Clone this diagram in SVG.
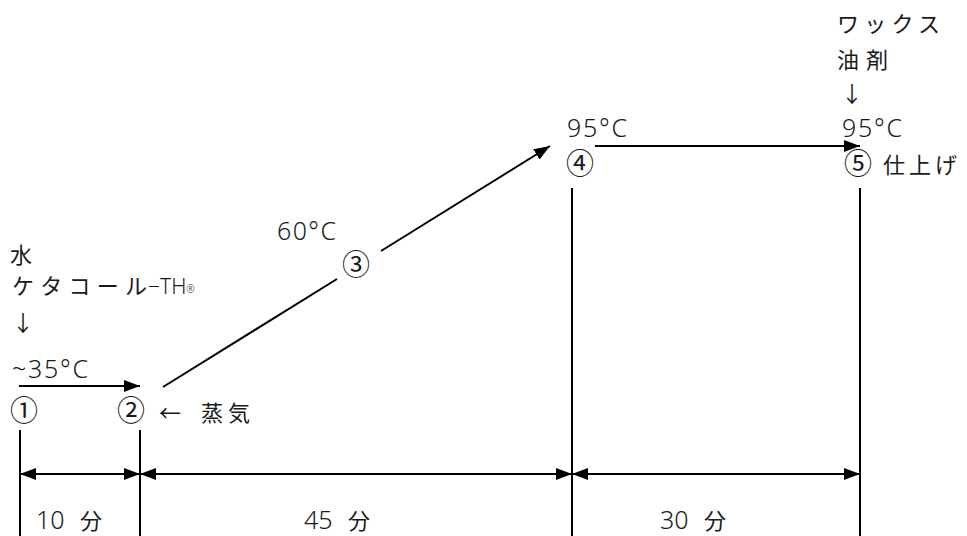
<svg xmlns="http://www.w3.org/2000/svg" width="967" height="536" viewBox="0 0 967 536">
<defs>
<marker id="ahb" markerWidth="16" markerHeight="12" refX="16" refY="6" orient="auto-start-reverse" markerUnits="userSpaceOnUse">
<path d="M0,0 L16,6 L0,12 Z" fill="#000"/>
</marker>
<style>
text{font-family:"Noto Sans CJK JP","Noto Sans",sans-serif;font-size:22px;fill:#1a1a1a}
.n{font-family:"Noto Sans","Noto Sans CJK JP",sans-serif;font-size:25px;font-weight:300}
.c{font-size:28px}
.l{stroke:#000;stroke-width:2;fill:none}
</style>
</defs>
<rect width="967" height="536" fill="#fff"/>
<g id="connectors">
<line class="l" x1="20" y1="430" x2="20" y2="536"/>
<line class="l" x1="140" y1="430" x2="140" y2="536"/>
<line class="l" x1="572" y1="188" x2="572" y2="536"/>
<line class="l" x1="860" y1="188" x2="860" y2="536"/>
<line class="l" x1="20" y1="474" x2="140" y2="474" marker-start="url(#ahb)" marker-end="url(#ahb)"/>
<line class="l" x1="140" y1="474" x2="572" y2="474" marker-start="url(#ahb)" marker-end="url(#ahb)"/>
<line class="l" x1="572" y1="474" x2="860" y2="474" marker-start="url(#ahb)" marker-end="url(#ahb)"/>
<line class="l" x1="19" y1="386" x2="140" y2="386" marker-end="url(#ahb)"/>
<line class="l" x1="595" y1="146" x2="860" y2="146" marker-end="url(#ahb)"/>
<line class="l" x1="163" y1="387" x2="337" y2="279"/>
<line class="l" x1="381" y1="251" x2="550" y2="146" marker-end="url(#ahb)"/>
</g>
<g id="n1">
<text x="10" y="263">水</text>
<text x="12" y="294" textLength="135" lengthAdjust="spacing">ケタコール</text>
<text class="n" x="148" y="294" font-size="21" style="font-size:21px">−TH<tspan style="font-size:10px" dy="-1">®</tspan></text>
<text x="12" y="331">↓</text>
<text class="n" x="12" y="378" textLength="76" lengthAdjust="spacing">~35°C</text>
<text class="c" x="10" y="421">①</text>
</g>
<g id="n2">
<text class="c" x="117" y="421">②</text>
<text x="159" y="421">←</text>
<text x="201" y="421" textLength="49" lengthAdjust="spacing">蒸気</text>
</g>
<g id="n3">
<text class="n" x="277" y="240" textLength="59" lengthAdjust="spacing">60°C</text>
<text class="c" x="342" y="275">③</text>
</g>
<g id="n4">
<text class="n" x="567" y="137" textLength="60" lengthAdjust="spacing">95°C</text>
<text class="c" x="566" y="174">④</text>
</g>
<g id="n5">
<text x="837" y="32" textLength="103" lengthAdjust="spacing">ワックス</text>
<text x="837" y="68" textLength="51" lengthAdjust="spacing">油剤</text>
<text x="841" y="102">↓</text>
<text class="n" x="842" y="137" textLength="60" lengthAdjust="spacing">95°C</text>
<text class="c" x="844" y="174">⑤</text>
<text x="883" y="173" textLength="74" lengthAdjust="spacing">仕上げ</text>
</g>
<g id="durations">
<text class="n" x="36" y="529">10</text>
<text x="80" y="529">分</text>
<text class="n" x="304" y="529">45</text>
<text x="348" y="529">分</text>
<text class="n" x="660" y="529">30</text>
<text x="704" y="529">分</text>
</g>
</svg>
